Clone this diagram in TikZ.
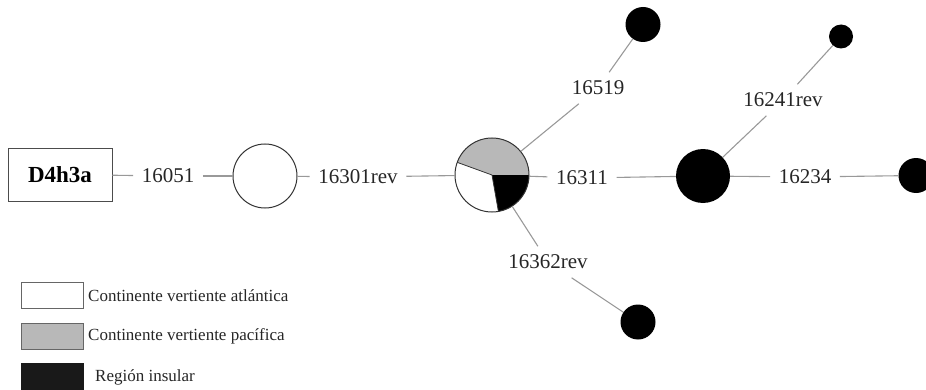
\documentclass[tikz,border=0pt]{standalone}
\usepackage{fontspec}
\setmainfont{Liberation Serif}
\begin{document}
\begin{tikzpicture}[x=1pt,y=1pt,
  conn/.style={draw=black!40, line width=1.1pt},
  lbl/.style={inner sep=8.5pt, font=\fontsize{21}{21}\selectfont, text=black!85},
  blk/.style={circle, fill=black, inner sep=0pt},
  leg/.style={draw=black!60, line width=0.6pt, minimum width=62pt, minimum height=26pt, inner sep=0pt},
  legtxt/.style={anchor=west, inner sep=0pt, font=\fontsize{17}{17}\selectfont, text=black!85}]
\useasboundingbox (0,0) rectangle (926,389);
% nodes
\node[draw=black!70, line width=0.7pt, minimum width=104pt, minimum height=53pt, font=\bfseries\fontsize{23}{23}\selectfont] (box) at (60,214.5) {D4h3a};
\node[lbl] (l1) at (168,213) {16051};
\node[circle, draw=black!80, line width=1pt, minimum size=64pt, inner sep=0pt] (c1) at (265,213) {};
\node[lbl] (l2) at (358,212) {16301rev};
\node[circle, minimum size=74pt, inner sep=0pt] (pie) at (492,214) {};
\node[lbl] (l3) at (582,211) {16311};
\node[blk, minimum size=54pt] (big) at (703,213) {};
\node[lbl] (l4) at (805,212) {16234};
\node[blk, minimum size=35pt] (right) at (916,213.5) {};
\node[lbl] (l5) at (598,301) {16519};
\node[blk, minimum size=35pt] (top) at (643,364.5) {};
\node[lbl] (l6) at (783,289) {16241rev};
\node[blk, minimum size=24pt] (small) at (841,352.5) {};
\node[lbl] (l7) at (548,127) {16362rev};
\node[blk, minimum size=35pt] (bottom) at (638,67) {};
% pie
\fill[black!28] (pie.center) -- ++(0:37) arc (0:160:37) -- cycle;
\fill[white] (pie.center) -- ++(160:37) arc (160:280:37) -- cycle;
\fill[black] (pie.center) -- ++(280:37) arc (280:360:37) -- cycle;
\draw[black!80, line width=0.8pt] (pie.center) -- ++(160:37);
\draw[black!80, line width=0.8pt] (pie.center) -- ++(280:37);
\draw[black!80, line width=1pt] (pie.center) circle (37);
% connectors
\draw[conn] (box) -- (l1);
\draw[conn] (l1) -- (c1);
\draw[conn] (c1) -- (l2);
\draw[conn] (l2) -- (pie);
\draw[conn] (pie) -- (l3);
\draw[conn] (l3) -- (big);
\draw[conn] (big) -- (l4);
\draw[conn] (l4) -- (right);
\draw[conn] (pie) -- (l5);
\draw[conn] (l5) -- (top);
\draw[conn] (big) -- (l6);
\draw[conn] (l6) -- (small);
\draw[conn] (pie) -- (l7);
\draw[conn] (l7) -- (bottom);
% legend
\node[leg, fill=white] (lg1) at (52,93.5) {};
\node[leg, fill=black!28] (lg2) at (52,53) {};
\node[leg, fill=black!90, draw=black!90] (lg3) at (52,13) {};
\node[legtxt] (t1) at (88,93) {Continente vertiente atlántica};
\node[legtxt] (t2) at (88,53) {Continente vertiente pacífica};
\node[legtxt] (t3) at (95,12) {Región insular};
\end{tikzpicture}
\end{document}
